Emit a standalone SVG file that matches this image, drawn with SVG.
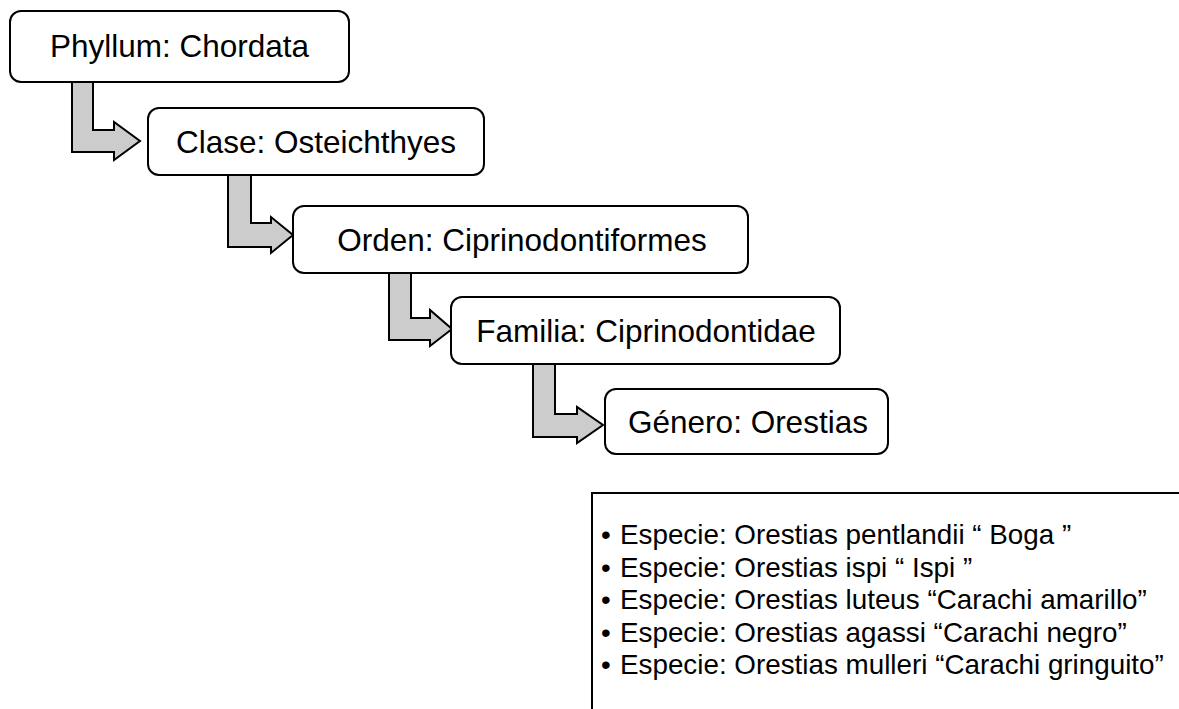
<svg xmlns="http://www.w3.org/2000/svg" width="1179" height="709" viewBox="0 0 1179 709">
<style>
.node{fill:#ffffff;stroke:#000000;stroke-width:2}
.lbl{font-family:"Liberation Sans",Arial,sans-serif;font-size:31.5px;fill:#000000;text-anchor:middle}
.arr{fill:#cccccc;stroke:#000000;stroke-width:2;stroke-linejoin:miter}
.sp{font-family:"Liberation Sans",Arial,sans-serif;font-size:27.8px;fill:#000000}
</style>
<rect x="0" y="0" width="1179" height="709" fill="#ffffff"/>
<g id="connectors">
<polygon class="arr" points="72,82 93,82 93,130 114,130 114,122 140,141 114,160 114,152 72,152"/>
<polygon class="arr" points="228,175 251,175 251,223 271,223 271,217 293,235 271,253 271,247 228,247"/>
<polygon class="arr" points="389,272 411,272 411,318 430,318 430,310 452,329 430,346 430,340 389,340"/>
<polygon class="arr" points="533,363 555,363 555,414 577,414 577,407 603,425 577,443 577,437 533,437"/>
</g>
<g id="phyllum">
<rect class="node" x="10" y="11" width="339" height="71" rx="11"/>
<text class="lbl" x="179.5" y="57">Phyllum: Chordata</text>
</g>
<g id="clase">
<rect class="node" x="148" y="108" width="336" height="67" rx="11"/>
<text class="lbl" x="316" y="153">Clase: Osteichthyes</text>
</g>
<g id="orden">
<rect class="node" x="293" y="206" width="455" height="67" rx="11"/>
<text class="lbl" x="522" y="250.5">Orden: Ciprinodontiformes</text>
</g>
<g id="familia">
<rect class="node" x="451" y="297" width="389" height="67" rx="11"/>
<text class="lbl" x="646" y="341.5">Familia: Ciprinodontidae</text>
</g>
<g id="genero">
<rect class="node" x="605" y="389" width="283" height="65" rx="11"/>
<text class="lbl" x="748" y="432.5">Género: Orestias</text>
</g>
<g id="especies">
<rect x="592" y="493" width="700" height="300" fill="#ffffff" stroke="#000000" stroke-width="2"/>
<text class="sp" x="601" y="544">•</text>
<text class="sp" x="620" y="544">Especie: Orestias pentlandii “ Boga ”</text>
<text class="sp" x="601" y="576.5">•</text>
<text class="sp" x="620" y="576.5">Especie: Orestias ispi “ Ispi ”</text>
<text class="sp" x="601" y="609">•</text>
<text class="sp" x="620" y="609">Especie: Orestias luteus “Carachi amarillo”</text>
<text class="sp" x="601" y="641.5">•</text>
<text class="sp" x="620" y="641.5">Especie: Orestias agassi “Carachi negro”</text>
<text class="sp" x="601" y="674">•</text>
<text class="sp" x="620" y="674">Especie: Orestias mulleri “Carachi gringuito”</text>
</g>
</svg>
